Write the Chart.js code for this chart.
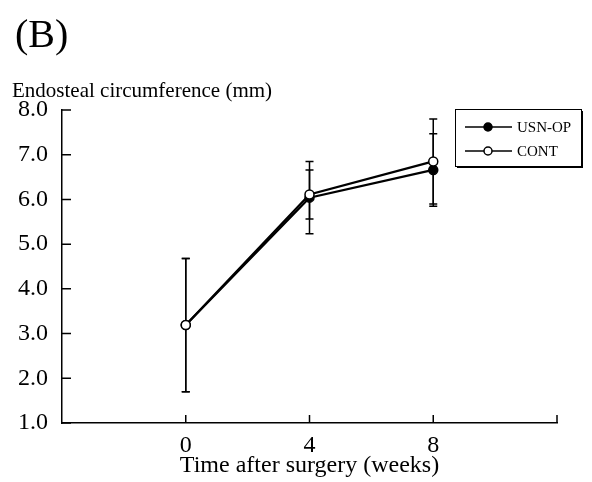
<!DOCTYPE html>
<html>
<head>
<meta charset="utf-8">
<script src="https://cdn.jsdelivr.net/npm/chart.js@4"></script>
<style>
  html, body { margin: 0; padding: 0; background: #fff; }
  #wrap { width: 592px; height: 482px; }
</style>
</head>
<body>
<div id="wrap"><canvas id="chart" width="592" height="482"></canvas></div>
<script>
Chart.defaults.animation = false;

const SERIF = '"Liberation Serif", "Times New Roman", serif';

// data
const weeks = [0, 4, 8];
const usnOp = [3.19, 6.04, 6.66];
const usnOpErr = [1.49, 0.81, 0.81];
const cont = [3.19, 6.11, 6.85];
const contErr = [1.49, 0.55, 0.95];
const xTicks = [0, 4, 8];
const xTickMarks = [0, 4, 8, 12];
const yTicks = [1, 2, 3, 4, 5, 6, 7, 8];
const seriesNames = ["USN-OP", "CONT"];

const toPoints = (vals) => weeks.map((w, i) => ({ x: w, y: vals[i] }));

// texts, inward ticks, error bars and the boxed legend
const decor = {
  id: "decor",
  beforeDatasetsDraw(chart) {
    const { ctx, scales: { x, y } } = chart;
    ctx.save();
    ctx.strokeStyle = "#000";
    ctx.lineWidth = 1.5;
    chart.data.datasets.forEach((ds) => {
      ds.data.forEach((p, i) => {
        const err = ds.err[i];
        const px = x.getPixelForValue(p.x);
        const top = y.getPixelForValue(p.y + err);
        const bot = y.getPixelForValue(p.y - err);
        ctx.beginPath();
        ctx.moveTo(px, top); ctx.lineTo(px, bot);
        ctx.moveTo(px - 4, top); ctx.lineTo(px + 4, top);
        ctx.moveTo(px - 4, bot); ctx.lineTo(px + 4, bot);
        ctx.stroke();
      });
    });
    ctx.restore();
  },
  afterDraw(chart) {
    const { ctx, chartArea: a, scales: { x, y } } = chart;
    ctx.save();
    ctx.fillStyle = "#000";
    ctx.strokeStyle = "#000";
    ctx.textBaseline = "alphabetic";
    ctx.font = "40px " + SERIF;
    ctx.fillText("(B)", 15, 47);
    ctx.font = "21px " + SERIF;
    ctx.fillText("Endosteal circumference (mm)", 12, 97);

    // inward tick marks
    ctx.lineWidth = 1.5;
    ctx.beginPath();
    yTicks.forEach((v) => {
      const py = y.getPixelForValue(v);
      ctx.moveTo(a.left, py); ctx.lineTo(a.left + 9, py);
    });
    xTickMarks.forEach((v) => {
      const px = x.getPixelForValue(v);
      ctx.moveTo(px, a.bottom); ctx.lineTo(px, a.bottom - 8);
    });
    ctx.stroke();

    // legend box with shadow
    const L = 455, T = 109, W = 126, H = 57;
    ctx.fillRect(L + 2, T + 2, W, H);
    ctx.fillStyle = "#fff";
    ctx.fillRect(L, T, W, H);
    ctx.lineWidth = 1;
    ctx.strokeRect(L + 0.5, T + 0.5, W, H);

    ctx.font = "15px " + SERIF;
    const rows = [127, 151];
    chart.data.datasets.slice().reverse().forEach((ds, k) => {
      const ry = rows[k];
      ctx.lineWidth = 1.5;
      ctx.beginPath();
      ctx.moveTo(465, ry); ctx.lineTo(512, ry);
      ctx.stroke();
      ctx.beginPath();
      ctx.arc(488, ry, 4, 0, Math.PI * 2);
      ctx.fillStyle = ds.pointBackgroundColor;
      ctx.fill();
      ctx.stroke();
      ctx.fillStyle = "#000";
      ctx.fillText(seriesNames[k], 517, ry + 5);
    });
    ctx.restore();
  }
};

new Chart(document.getElementById("chart"), {
  type: "line",
  data: {
    datasets: [
      {
        label: seriesNames[1],
        data: toPoints(cont),
        err: contErr,
        borderColor: "#000",
        borderWidth: 2.2,
        pointRadius: 4.5,
        pointBorderWidth: 1.5,
        pointBorderColor: "#000",
        pointBackgroundColor: "#fff",
        tension: 0,
        fill: false
      },
      {
        label: seriesNames[0],
        data: toPoints(usnOp),
        err: usnOpErr,
        borderColor: "#000",
        borderWidth: 2.2,
        pointRadius: 4.5,
        pointBorderWidth: 1.5,
        pointBorderColor: "#000",
        pointBackgroundColor: "#000",
        tension: 0,
        fill: false
      }
    ]
  },
  options: {
    responsive: false,
    animation: false,
    layout: { padding: { top: 110, right: 35, left: 0, bottom: 0 } },
    plugins: { legend: { display: false }, tooltip: { enabled: false } },
    scales: {
      x: {
        type: "linear",
        min: -4,
        max: 12,
        afterBuildTicks: (s) => { s.ticks = xTicks.map((v) => ({ value: v })); },
        afterFit: (s) => { s.height = 59; },
        grid: { display: false },
        border: { display: true, color: "#000", width: 1.5 },
        ticks: {
          color: "#000",
          padding: 0,
          maxRotation: 0,
          font: { family: SERIF, size: 24 },
          callback: (v) => String(v)
        },
        title: {
          display: true,
          text: "Time after surgery (weeks)",
          color: "#000",
          font: { family: SERIF, size: 24 },
          padding: { top: 0, bottom: 2 }
        }
      },
      y: {
        min: 1,
        max: 8,
        afterBuildTicks: (s) => { s.ticks = yTicks.map((v) => ({ value: v })); },
        afterFit: (s) => { s.width = 62; },
        grid: { display: false },
        border: { display: true, color: "#000", width: 1.5 },
        ticks: {
          color: "#000",
          padding: 6,
          font: { family: SERIF, size: 24 },
          callback: (v) => v.toFixed(1)
        }
      }
    }
  },
  plugins: [decor]
});
</script>
</body>
</html>
